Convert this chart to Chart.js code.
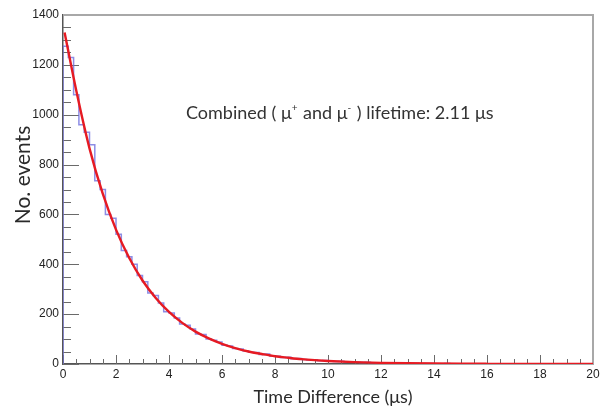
<!DOCTYPE html>
<html>
<head>
<meta charset="utf-8">
<script src="https://cdn.jsdelivr.net/npm/chart.js@4.4.1/dist/chart.umd.min.js"></script>
<style>
    html, body { margin: 0; padding: 0; background: #ffffff; }
</style>
</head>
<body>
<canvas id="lifetime" width="608" height="409"></canvas>
<script>
// Muon decay time histogram (0.2 µs bins) with the exponential fit on top.

const BIN_WIDTH = 0.2;
const COUNTS = [
    1275, 1230, 1080, 960, 930, 880, 735, 700, 600, 585,
    520, 455, 430, 400, 355, 330, 285, 275, 245, 210,
    205, 185, 160, 155, 140, 120, 118, 100, 95, 88,
    75, 72, 62, 60, 52, 47, 46, 38, 40, 32,
    31, 26, 27, 21, 22, 18, 16, 17, 13, 14,
    11, 10, 11, 8, 9, 7, 6, 7, 5, 4,
    5, 3, 4, 3, 2, 3, 2, 1, 2, 2,
    1, 1, 2, 1, 0, 1, 1, 0, 1, 0,
    0, 1, 0, 0, 1, 0, 0, 0, 1, 0,
    0, 0, 0, 1, 0, 0, 0, 0, 0, 0
];

const FIT_T = [0.06, 0.5, 1, 1.5, 2, 2.5, 3, 3.5, 4, 4.5, 5, 5.5, 6, 6.5, 7, 7.5,
               8, 8.5, 9, 9.5, 10, 11, 12, 13, 14, 15, 16, 18, 20];
const FIT_N = [1330, 1097, 865, 683, 539, 425, 335, 265, 209, 165, 130, 103, 81, 64, 50, 40,
               31, 25, 19.5, 15.4, 12.2, 7.6, 4.7, 2.9, 1.8, 1.1, 0.7, 0.3, 0.1];

const X_TICKS = [0, 2, 4, 6, 8, 10, 12, 14, 16, 18, 20];
const Y_TICKS = [0, 200, 400, 600, 800, 1000, 1200, 1400];

const X_TITLE = 'Time Difference (μs)';
const Y_TITLE = 'No. events';
const NOTE = ['Combined ( μ', '+', ' and μ', '-', ' ) lifetime: 2.11 μs'];

const FONT = 'Lato, "Open Sans", sans-serif';

function histPoints() {
    // stepped line through the bin edges, closed at both ends like ROOT does
    const pts = [{ x: 0, y: 0 }];
    COUNTS.forEach((c, i) => pts.push({ x: i * BIN_WIDTH, y: c }));
    pts.push({ x: COUNTS.length * BIN_WIDTH, y: 0 });
    return pts;
}

// inward tick marks, grey frame and the texts
const rootStyle = {
    id: 'rootStyle',
    beforeDatasetsDraw(chart) {
        const { ctx, chartArea: a, scales: { x, y } } = chart;
        ctx.save();
        ctx.strokeStyle = '#6a6a6a';
        ctx.lineWidth = 1;
        ctx.beginPath();
        for (let v = 0; v <= 20.001; v += 0.5) {
            const px = Math.round(x.getPixelForValue(v)) + 0.5;
            const len = Math.abs(v / 2 - Math.round(v / 2)) < 1e-6 ? 9 : 5;
            ctx.moveTo(px, a.bottom);
            ctx.lineTo(px, a.bottom - len);
        }
        for (let v = 0; v <= 1400.001; v += 50) {
            const py = Math.round(y.getPixelForValue(v)) + 0.5;
            const len = v % 200 === 0 ? 16 : 8;
            ctx.moveTo(a.left, py);
            ctx.lineTo(a.left + len, py);
        }
        ctx.stroke();

        ctx.strokeStyle = '#a8a8a8';
        ctx.lineWidth = 2;
        ctx.beginPath();
        ctx.moveTo(a.left, a.top);
        ctx.lineTo(a.right, a.top);
        ctx.lineTo(a.right, a.bottom);
        ctx.stroke();
        ctx.restore();
    },
    afterDraw(chart) {
        const { ctx } = chart;
        ctx.save();
        ctx.fillStyle = '#2a2a2a';
        ctx.textBaseline = 'alphabetic';

        ctx.font = `18px ${FONT}`;
        ctx.textAlign = 'center';
        ctx.fillText(X_TITLE, 333, 403);

        ctx.save();
        ctx.translate(30, 175);
        ctx.rotate(-Math.PI / 2);
        ctx.font = `21px ${FONT}`;
        ctx.fillText(Y_TITLE, 0, 0);
        ctx.restore();

        // annotation with small superscript signs
        ctx.fillStyle = '#333333';
        ctx.textAlign = 'left';
        let cx = 186;
        NOTE.forEach((part, i) => {
            const sup = i % 2 === 1;
            ctx.font = sup ? `10px ${FONT}` : `18px ${FONT}`;
            ctx.fillText(part, cx, sup ? 111 : 119);
            cx += ctx.measureText(part).width + (sup ? 1 : 0);
        });
        ctx.restore();
    }
};

const tickFont = { family: '"Liberation Sans", Arial, sans-serif', size: 12 };
const plainLabel = v => String(v);

new Chart(document.getElementById('lifetime').getContext('2d'), {
    type: 'line',
    data: {
        datasets: [{
            label: 'fit',
            data: FIT_T.map((t, i) => ({ x: t, y: FIT_N[i] })),
            borderColor: '#e61a22',
            borderWidth: 2.4,
            pointRadius: 0,
            cubicInterpolationMode: 'monotone',
            fill: false
        }, {
            label: 'histogram',
            data: histPoints(),
            borderColor: 'rgba(112, 112, 222, 0.8)',
            borderWidth: 1.5,
            pointRadius: 0,
            stepped: 'before',
            fill: false
        }]
    },
    options: {
        responsive: false,
        animation: false,
        layout: { padding: { top: 15, right: 15, left: 0, bottom: 0 } },
        plugins: {
            legend: { display: false },
            tooltip: { enabled: false }
        },
        scales: {
            x: {
                type: 'linear',
                min: 0,
                max: 20,
                afterBuildTicks: s => { s.ticks = X_TICKS.map(v => ({ value: v })); },
                afterFit: s => { s.height = 45; },
                grid: { display: false, drawTicks: false },
                border: { display: true, color: '#555555', width: 1.5 },
                ticks: { font: tickFont, color: '#222222', padding: 3, maxRotation: 0, autoSkip: false, callback: plainLabel }
            },
            y: {
                type: 'linear',
                min: 0,
                max: 1400,
                afterBuildTicks: s => { s.ticks = Y_TICKS.map(v => ({ value: v })); },
                afterFit: s => { s.width = 63; },
                grid: { display: false, drawTicks: false },
                border: { display: true, color: '#555555', width: 1.5 },
                ticks: { font: tickFont, color: '#222222', padding: 4, autoSkip: false, callback: plainLabel }
            }
        }
    },
    plugins: [rootStyle]
});
</script>
</body>
</html>
